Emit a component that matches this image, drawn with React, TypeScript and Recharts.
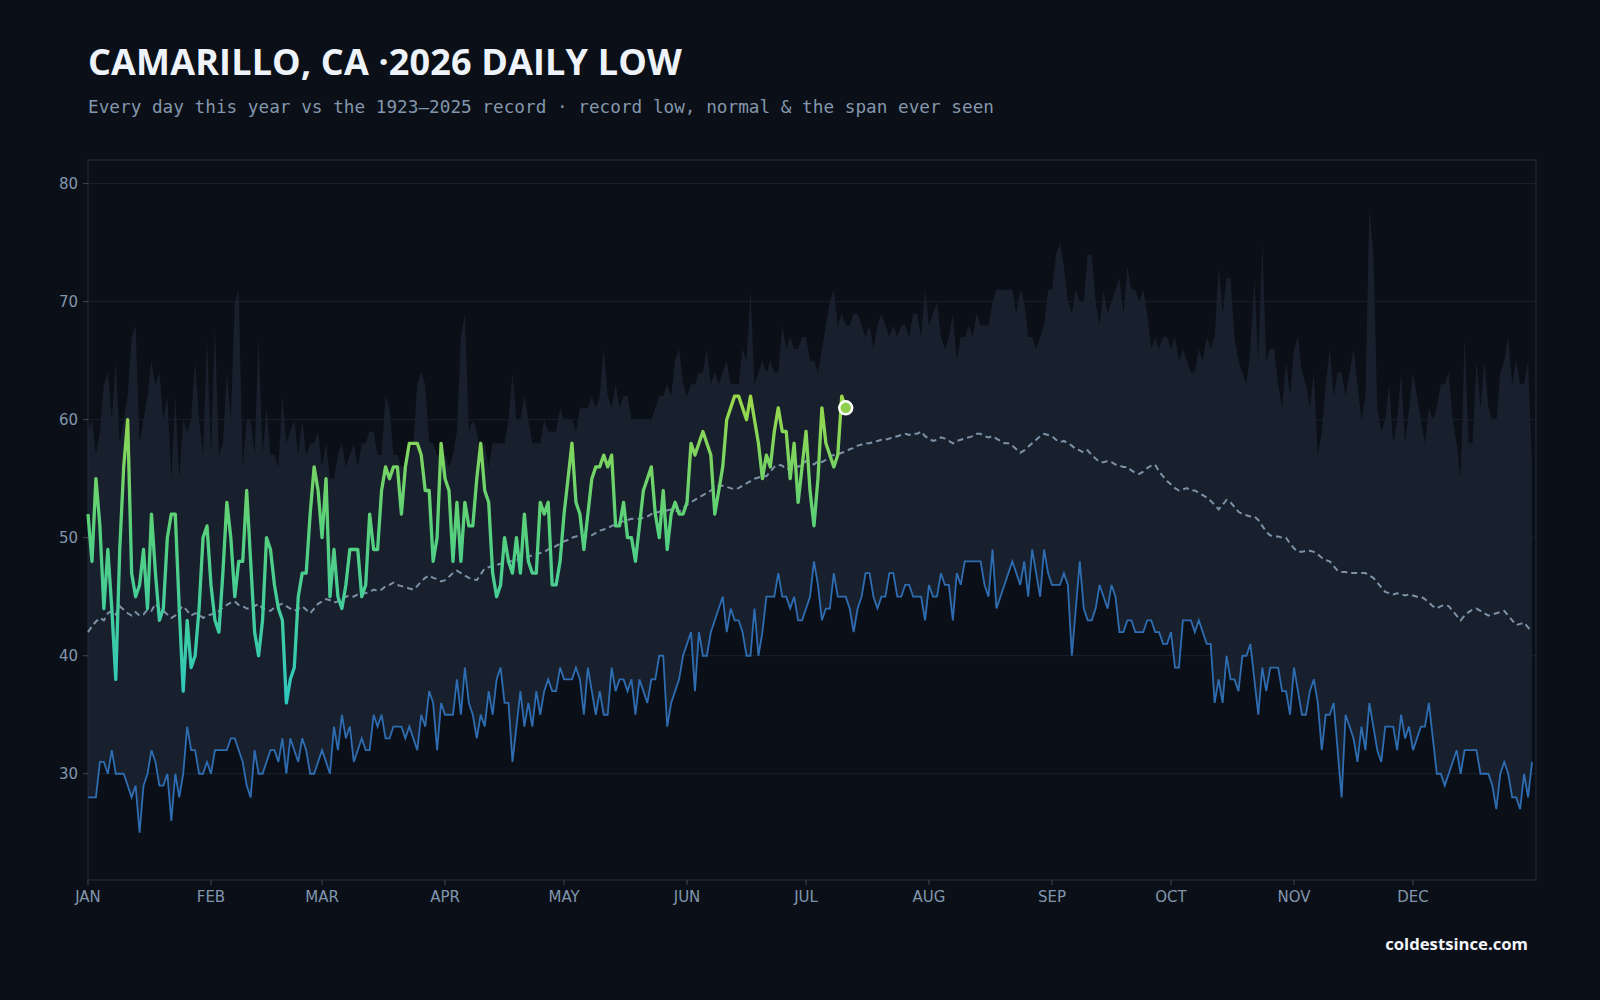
import { ComposedChart, Area, Line, XAxis, YAxis, CartesianGrid, ReferenceArea } from "recharts"

// record high of the daily low, Jan 1 .. Dec 31
const recordHigh = [
  59, 60, 57, 59, 63, 64, 60, 65, 58, 60, 62, 67, 68, 58, 60, 62, 65, 63, 64, 60,
  62, 55, 62, 55, 60, 59, 60, 65, 60, 57, 67, 57, 68, 57, 58, 64, 60, 70, 71, 56,
  60, 60, 57, 67, 57, 61, 57, 57, 56, 62, 58,
  59, 60, 57, 60, 57, 58, 58, 59, 56, 58, 55, 55, 57, 58, 56, 57, 58, 56, 58, 58,
  59, 59, 57, 57, 62, 61, 57, 57, 56, 56, 57, 58, 63, 64, 63, 58, 58, 57, 57, 57,
  56, 57, 59, 67, 69, 59, 60, 59, 57, 58, 56, 58, 58, 58, 58, 60, 64, 60, 60, 62, 60,
  58, 58, 58, 60, 59, 59, 59, 61, 60, 60, 60, 59, 61, 61, 61, 62, 61, 62, 66, 62,
  61, 63, 61, 62, 62, 60, 60, 60, 60, 60, 60, 61, 62, 62, 63, 62, 65, 66, 63, 62,
  63, 63, 64, 64, 66, 63, 64, 63, 64, 65, 63, 63, 63, 66, 65, 71, 63, 64, 65, 64, 65,
  64, 64, 68, 66, 67, 66, 66, 67, 67, 65, 65, 64, 66, 68, 70, 71, 68, 69, 68, 68,
  69, 69, 68, 67, 68, 66, 68, 69, 68, 67, 68, 67, 68, 68, 67, 69, 69, 67, 71, 68,
  69, 70, 67, 66, 67, 69, 65, 67, 67, 68, 67, 69, 68, 68, 68, 70, 71, 71, 71, 71,
  71, 69, 71, 70, 67, 67, 66, 67, 68, 71, 71, 74, 75, 73, 70, 69, 71, 70, 70, 74,
  74, 70, 68, 71, 69, 70, 71, 72, 69, 73, 71, 71, 70, 71, 69, 66, 67, 66, 67, 67,
  66, 67, 65, 66, 65, 64, 64, 66, 65, 67, 66, 67, 73, 69, 72, 72, 67, 65,
  64, 63, 66, 72, 65, 75, 65, 66, 66, 63, 61, 65, 62, 66, 67, 64, 63, 61, 64, 57,
  59, 63, 66, 62, 64, 64, 62, 64, 66, 63, 60, 62, 78, 74, 61, 59, 60, 63, 58, 60,
  64, 58, 61, 64, 62, 60, 58, 61, 60, 61, 63, 63, 64, 60, 58, 55, 67, 58, 58, 65,
  61, 65, 61, 60, 60, 64, 65, 67, 63, 65, 63, 63, 65, 56,
]

// record low of the daily low
const recordLow = [
  28, 28, 28, 31, 31, 30, 32, 30, 30, 30, 29, 28, 29, 25, 29, 30, 32, 31, 29, 29,
  30, 26, 30, 28, 30, 34, 32, 32, 30, 30, 31, 30, 32, 32, 32, 32, 33, 33, 32, 31,
  29, 28, 32, 30, 30, 31, 32, 32, 31, 33, 30,
  33, 32, 31, 33, 32, 30, 30, 31, 32, 31, 30, 34, 32, 35, 33, 34, 31, 32, 33, 32,
  32, 35, 34, 35, 33, 33, 34, 34, 34, 33, 34, 33, 32, 35, 34, 37, 36, 32, 36, 35,
  35, 35, 38, 35, 39, 36, 35, 33, 35, 34, 37, 35, 38, 39, 36, 36, 31, 34, 37, 34, 36,
  34, 37, 35, 37, 38, 37, 37, 39, 38, 38, 38, 39, 38, 35, 39, 37, 35, 37, 35, 35,
  39, 37, 38, 38, 37, 38, 35, 38, 37, 36, 38, 38, 40, 40, 34, 36, 37, 38, 40, 41,
  42, 37, 42, 40, 40, 42, 43, 44, 45, 42, 44, 43, 43, 42, 40, 40, 44, 40, 42, 45, 45,
  45, 47, 45, 45, 44, 45, 43, 43, 44, 45, 48, 46, 43, 44, 44, 47, 45, 45, 45, 44,
  42, 44, 45, 47, 47, 45, 44, 45, 45, 47, 47, 45, 45, 46, 46, 45, 45, 45, 43, 46,
  45, 45, 47, 46, 46, 43, 47, 46, 48, 48, 48, 48, 48, 46, 45, 49, 44, 45, 46, 47,
  48, 47, 46, 48, 45, 49, 47, 45, 49, 47, 46, 46, 46, 47, 46, 40, 44, 48, 44, 43,
  43, 44, 46, 45, 44, 46, 45, 42, 42, 43, 43, 42, 42, 42, 43, 43, 42, 42, 41, 41,
  42, 39, 39, 43, 43, 43, 42, 43, 42, 41, 41, 36, 38, 36, 40, 38, 38, 37,
  40, 40, 41, 38, 35, 39, 37, 39, 39, 39, 37, 37, 35, 39, 37, 35, 35, 37, 38, 36,
  32, 35, 35, 36, 32, 28, 35, 34, 33, 31, 34, 32, 36, 34, 32, 31, 34, 34, 34, 32,
  35, 33, 34, 32, 33, 34, 34, 36, 33, 30, 30, 29, 30, 31, 32, 30, 32, 32, 32, 32,
  30, 30, 30, 29, 27, 30, 31, 30, 28, 28, 27, 30, 28, 31,
]

// 1923-2025 normal daily low
const normal = [
  42.0, 42.5, 42.9, 43.2, 43.0, 43.6, 43.8, 43.5, 44.2, 43.9,
  43.6, 43.4, 43.7, 43.4, 43.5, 43.9, 43.8, 44.4, 44.0, 43.8,
  43.5, 43.2, 43.4, 43.9, 44.2, 43.8, 43.4, 43.6, 43.5, 43.2,
  43.4, 43.5, 43.6, 43.8, 44.1, 44.3, 44.5, 44.6, 44.3, 44.2,
  44.0, 44.0, 44.2, 44.4, 44.0, 43.9, 43.8, 44.1, 44.3, 44.4,
  44.2, 44.0, 43.8, 44.0, 44.2, 43.9, 43.6, 44.0, 44.4, 44.6,
  44.8, 44.7, 44.5, 44.6, 44.8, 45.0, 45.1, 45.0, 45.2, 45.3,
  45.3, 45.4, 45.6, 45.5, 45.6, 45.9, 46.0, 46.2, 46.0, 45.9,
  45.8, 45.7, 45.6, 45.9, 46.3, 46.6, 46.8, 46.6, 46.5, 46.3,
  46.4, 46.7, 47.0, 47.2, 47.0, 46.8, 46.6, 46.5, 46.4, 46.9,
  47.4, 47.5, 47.6, 47.7, 47.8, 47.9, 48.0, 48.0, 48.1, 48.2,
  48.3, 48.4, 48.5, 48.6, 48.7, 48.8, 49.0, 49.1, 49.3, 49.5,
  49.7, 49.8, 50.0, 50.1, 50.2, 50.1, 50.2, 50.2, 50.4, 50.6,
  50.7, 50.8, 51.0, 51.1, 51.3, 51.4, 51.5, 51.6, 51.6, 51.6,
  51.7, 51.8, 52.0, 52.1, 52.2, 52.3, 52.3, 52.4, 52.3, 52.2,
  52.5, 52.8, 53.0, 53.2, 53.4, 53.6, 53.8, 54.0, 54.2, 54.4,
  54.4, 54.3, 54.2, 54.1, 54.2, 54.4, 54.6, 54.8, 55.0, 55.1,
  55.2, 55.2, 55.6, 56.0, 56.2, 56.1, 55.8, 55.9, 56.2, 56.0,
  56.2, 56.5, 56.4, 56.2, 56.5, 56.4, 56.6, 56.9, 57.0, 57.1,
  57.2, 57.3, 57.5, 57.6, 57.8, 57.9, 58.0, 58.0, 58.1, 58.2,
  58.3, 58.3, 58.4, 58.5, 58.6, 58.7, 58.8, 58.7, 58.8, 58.8,
  59.0, 58.6, 58.4, 58.2, 58.3, 58.5, 58.4, 58.2, 58.0, 58.2,
  58.3, 58.4, 58.5, 58.6, 58.8, 58.8, 58.6, 58.5, 58.6, 58.4,
  58.2, 58.0, 58.0, 57.8, 57.5, 57.2, 57.4, 57.7, 58.0, 58.3,
  58.6, 58.8, 58.7, 58.6, 58.3, 58.1, 58.2, 58.0, 57.8, 57.5,
  57.4, 57.2, 57.4, 57.0, 56.7, 56.4, 56.4, 56.5, 56.4, 56.2,
  56.1, 56.0, 56.0, 55.7, 55.5, 55.4, 55.6, 55.9, 56.1, 56.2,
  55.6, 55.2, 54.8, 54.5, 54.2, 54.0, 54.1, 54.2, 54.0, 54.0,
  53.8, 53.6, 53.4, 53.1, 52.8, 52.4, 52.8, 53.2, 53.0, 52.6,
  52.2, 52.0, 51.9, 51.8, 51.8, 51.5, 51.0, 50.5, 50.2, 50.1,
  50.1, 50.0, 50.0, 49.5, 49.1, 48.8, 48.8, 48.9, 48.9, 48.8,
  48.6, 48.3, 48.1, 48.0, 47.6, 47.2, 47.1, 47.1, 47.0, 47.0,
  47.0, 47.0, 47.0, 46.8, 46.6, 46.2, 45.8, 45.4, 45.3, 45.2,
  45.3, 45.2, 45.1, 45.2, 45.1, 45.0, 45.0, 44.8, 44.5, 44.2,
  44.0, 44.2, 44.3, 44.2, 43.8, 43.4, 43.0, 43.4, 43.7, 43.9,
  44.0, 43.8, 43.6, 43.4, 43.5, 43.6, 43.7, 43.8, 43.4, 43.0,
  42.6, 42.7, 42.8, 42.4, 42.0,
]

// 2026 daily lows so far (Jan 1 .. Jul 11)
const year2026 = [
  52, 48, 55, 51, 44, 49, 44, 38, 49, 56, 60, 47, 45, 46, 49, 44, 52, 47, 43, 44,
  50, 52, 52, 44, 37, 43, 39, 40, 44, 50, 51, 46, 43, 42, 47, 53, 50, 45, 48, 48,
  54, 48, 42, 40, 43, 50, 49, 46, 44, 43, 36, 38, 39, 45, 47, 47, 52, 56, 54, 50,
  55, 45, 49, 45, 44, 46, 49, 49, 49, 45, 46, 52, 49, 49, 54, 56, 55, 56, 56, 52,
  56, 58, 58, 58, 57, 54, 54, 48, 50, 58, 55, 54, 48, 53, 48, 53, 51, 51, 55, 58,
  54, 53, 47, 45, 46, 50, 48, 47, 50, 47, 52, 48, 47, 47, 53, 52, 53, 46, 46, 48,
  52, 55, 58, 53, 52, 49, 52, 55, 56, 56, 57, 56, 57, 51, 51, 53, 50, 50, 48, 51,
  54, 55, 56, 52, 50, 54, 49, 52, 53, 52, 52, 53, 58, 57, 58, 59, 58, 57, 52, 54,
  56, 60, 61, 62, 62, 61, 60, 62, 60, 58, 55, 57, 56, 59, 61, 59, 59, 55, 58, 53,
  56, 59, 54, 51, 55, 61, 58, 57, 56, 57, 62, 61,
]

const monthStarts = [0, 31, 59, 90, 120, 151, 181, 212, 243, 273, 304, 334]
const monthLabels = ["JAN", "FEB", "MAR", "APR", "MAY", "JUN", "JUL", "AUG", "SEP", "OCT", "NOV", "DEC"]
const yTicks = [30, 40, 50, 60, 70, 80]

const data = recordLow.map((low, i) => ({
  day: i,
  low,
  high: recordHigh[i],
  normal: normal[i],
  y2026: i < year2026.length ? year2026[i] : null,
}))

const lastIdx = year2026.length - 1

const axisText = { fill: "#8196ad", fontSize: 15, fontFamily: "DejaVu Sans, sans-serif" }

export default function App() {
  return (
    <div
      style={{
        position: "fixed",
        left: 0,
        top: 0,
        width: 1600,
        height: 1000,
        background: "#0b0f17",
        overflow: "hidden",
      }}
    >
      <div
        style={{
          position: "absolute",
          left: 88,
          top: 38,
          color: "#eef3fa",
          fontFamily: "'Open Sans', sans-serif",
          fontWeight: 700,
          fontSize: 36,
          letterSpacing: 0.15,
          lineHeight: "48px",
          whiteSpace: "nowrap",
        }}
      >
        CAMARILLO, CA ·2026 DAILY LOW
      </div>
      <div
        style={{
          position: "absolute",
          left: 88,
          top: 96,
          color: "#8397ad",
          fontFamily: "'DejaVu Sans Mono', monospace",
          fontSize: 17.72,
          lineHeight: "22px",
          whiteSpace: "nowrap",
        }}
      >
        Every day this year vs the 1923–2025 record · record low, normal &amp; the span ever seen
      </div>
      <div
        style={{
          position: "absolute",
          right: 72,
          top: 933,
          color: "#f2f5f9",
          fontFamily: "'Open Sans', sans-serif",
          fontWeight: 700,
          fontSize: 16.7,
          lineHeight: "22px",
        }}
      >
        coldestsince.com
      </div>

      <div style={{ position: "absolute", left: 0, top: 0 }}>
        <ComposedChart
          width={1600}
          height={1000}
          data={data}
          margin={{ top: 160, right: 64, left: 48, bottom: 90 }}
        >
          <defs>
            <linearGradient id="g2026" x1="0" y1="0" x2="0" y2="1">
              <stop offset="0%" stopColor="#9bd84a" />
              <stop offset="45%" stopColor="#55d07e" />
              <stop offset="100%" stopColor="#2ec8c0" />
            </linearGradient>
          </defs>
          <CartesianGrid horizontal vertical={false} stroke="#18222e" strokeWidth={1} />
          <XAxis
            dataKey="day"
            type="number"
            domain={[0, 365]}
            ticks={monthStarts}
            tickFormatter={(v) => monthLabels[monthStarts.indexOf(v)]}
            tick={axisText}
            tickLine={{ stroke: "#3a4a5c" }}
            tickSize={5}
            tickMargin={6}
            axisLine={false}
            height={30}
            interval={0}
          />
          <YAxis
            type="number"
            domain={[21, 82]}
            ticks={yTicks}
            tick={axisText}
            tickLine={{ stroke: "#3a4a5c" }}
            tickSize={5}
            tickMargin={5}
            axisLine={false}
            width={40}
            interval={0}
          />
          <Area
            dataKey={(d) => [d.low, d.high]}
            type="linear"
            stroke="none"
            fill="#17202c"
            fillOpacity={1}
            isAnimationActive={false}
            activeDot={false}
          />
          <Line
            dataKey="normal"
            type="linear"
            stroke="#7d91a9"
            strokeWidth={2}
            strokeDasharray="6 4"
            dot={false}
            activeDot={false}
            isAnimationActive={false}
          />
          <Line
            dataKey="low"
            type="linear"
            stroke="#2f6db2"
            strokeWidth={1.8}
            dot={false}
            activeDot={false}
            isAnimationActive={false}
          />
          <Line
            dataKey="y2026"
            type="linear"
            stroke="url(#g2026)"
            strokeWidth={3.3}
            strokeLinejoin="round"
            connectNulls={false}
            activeDot={false}
            isAnimationActive={false}
            dot={(p: any) =>
              p.index === lastIdx ? (
                <circle key="end" cx={p.cx} cy={p.cy} r={6.5} fill="#8fd14f" stroke="#ffffff" strokeWidth={2.5} />
              ) : (
                <g key={`d${p.index}`} />
              )
            }
          />
          <ReferenceArea x1={0} x2={365} y1={21} y2={82} fill="none" stroke="#1f2b3a" strokeWidth={1.2} />
        </ComposedChart>
      </div>
    </div>
  )
}
